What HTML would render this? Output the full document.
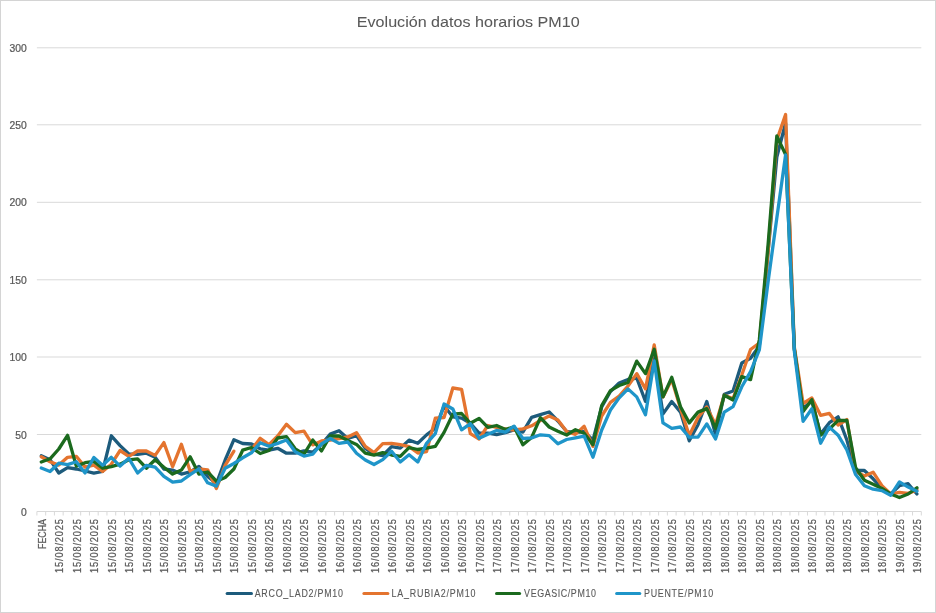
<!DOCTYPE html>
<html><head><meta charset="utf-8"><style>
html,body{margin:0;padding:0;background:#fff;}
body{width:936px;height:613px;overflow:hidden;}
svg{display:block;will-change:transform;} text{stroke:#595959;stroke-width:0.25px;font-family:"Liberation Sans",sans-serif;}
</style></head><body>
<svg width="936" height="613" viewBox="0 0 936 613">
<rect x="0.5" y="0.5" width="935" height="612" fill="#fff" stroke="#d4d4d4" stroke-width="1"/>
<text transform="translate(356.8,27.2)" font-size="14.6" fill="#595959" style="stroke-width:0.05px" textLength="222.9" lengthAdjust="spacingAndGlyphs">Evolución datos horarios PM10</text>
<line x1="36.9" y1="511.5" x2="921.3" y2="511.5" stroke="#d9d9d9" stroke-width="1"/>
<text transform="translate(26.8,515.5) scale(0.94,1)" font-size="11" fill="#595959" text-anchor="end">0</text>
<line x1="36.9" y1="434.5" x2="921.3" y2="434.5" stroke="#d9d9d9" stroke-width="1"/>
<text transform="translate(26.8,438.5) scale(0.94,1)" font-size="11" fill="#595959" text-anchor="end">50</text>
<line x1="36.9" y1="357.0" x2="921.3" y2="357.0" stroke="#d9d9d9" stroke-width="1"/>
<text transform="translate(26.8,361.0) scale(0.94,1)" font-size="11" fill="#595959" text-anchor="end">100</text>
<line x1="36.9" y1="279.8" x2="921.3" y2="279.8" stroke="#d9d9d9" stroke-width="1"/>
<text transform="translate(26.8,283.8) scale(0.94,1)" font-size="11" fill="#595959" text-anchor="end">150</text>
<line x1="36.9" y1="202.3" x2="921.3" y2="202.3" stroke="#d9d9d9" stroke-width="1"/>
<text transform="translate(26.8,206.3) scale(0.94,1)" font-size="11" fill="#595959" text-anchor="end">200</text>
<line x1="36.9" y1="124.8" x2="921.3" y2="124.8" stroke="#d9d9d9" stroke-width="1"/>
<text transform="translate(26.8,128.8) scale(0.94,1)" font-size="11" fill="#595959" text-anchor="end">250</text>
<line x1="36.9" y1="47.8" x2="921.3" y2="47.8" stroke="#d9d9d9" stroke-width="1"/>
<text transform="translate(26.8,51.8) scale(0.94,1)" font-size="11" fill="#595959" text-anchor="end">300</text>
<path d="M36.90 511.5V515.5M45.66 511.5V515.5M54.41 511.5V515.5M63.17 511.5V515.5M71.93 511.5V515.5M80.68 511.5V515.5M89.44 511.5V515.5M98.20 511.5V515.5M106.95 511.5V515.5M115.71 511.5V515.5M124.46 511.5V515.5M133.22 511.5V515.5M141.98 511.5V515.5M150.73 511.5V515.5M159.49 511.5V515.5M168.25 511.5V515.5M177.00 511.5V515.5M185.76 511.5V515.5M194.52 511.5V515.5M203.27 511.5V515.5M212.03 511.5V515.5M220.79 511.5V515.5M229.54 511.5V515.5M238.30 511.5V515.5M247.05 511.5V515.5M255.81 511.5V515.5M264.57 511.5V515.5M273.32 511.5V515.5M282.08 511.5V515.5M290.84 511.5V515.5M299.59 511.5V515.5M308.35 511.5V515.5M317.11 511.5V515.5M325.86 511.5V515.5M334.62 511.5V515.5M343.38 511.5V515.5M352.13 511.5V515.5M360.89 511.5V515.5M369.64 511.5V515.5M378.40 511.5V515.5M387.16 511.5V515.5M395.91 511.5V515.5M404.67 511.5V515.5M413.43 511.5V515.5M422.18 511.5V515.5M430.94 511.5V515.5M439.70 511.5V515.5M448.45 511.5V515.5M457.21 511.5V515.5M465.97 511.5V515.5M474.72 511.5V515.5M483.48 511.5V515.5M492.23 511.5V515.5M500.99 511.5V515.5M509.75 511.5V515.5M518.50 511.5V515.5M527.26 511.5V515.5M536.02 511.5V515.5M544.77 511.5V515.5M553.53 511.5V515.5M562.29 511.5V515.5M571.04 511.5V515.5M579.80 511.5V515.5M588.56 511.5V515.5M597.31 511.5V515.5M606.07 511.5V515.5M614.82 511.5V515.5M623.58 511.5V515.5M632.34 511.5V515.5M641.09 511.5V515.5M649.85 511.5V515.5M658.61 511.5V515.5M667.36 511.5V515.5M676.12 511.5V515.5M684.88 511.5V515.5M693.63 511.5V515.5M702.39 511.5V515.5M711.15 511.5V515.5M719.90 511.5V515.5M728.66 511.5V515.5M737.41 511.5V515.5M746.17 511.5V515.5M754.93 511.5V515.5M763.68 511.5V515.5M772.44 511.5V515.5M781.20 511.5V515.5M789.95 511.5V515.5M798.71 511.5V515.5M807.47 511.5V515.5M816.22 511.5V515.5M824.98 511.5V515.5M833.74 511.5V515.5M842.49 511.5V515.5M851.25 511.5V515.5M860.00 511.5V515.5M868.76 511.5V515.5M877.52 511.5V515.5M886.27 511.5V515.5M895.03 511.5V515.5M903.79 511.5V515.5M912.54 511.5V515.5M921.30 511.5V515.5" stroke="#d9d9d9" stroke-width="1" fill="none"/>
<text transform="translate(45.78,519) rotate(-90) scale(1.0,1)" font-size="10.5" fill="#595959" text-anchor="end" textLength="30.0" lengthAdjust="spacingAndGlyphs">FECHA</text>
<text transform="translate(63.29,519) rotate(-90) scale(0.88,1)" font-size="10.5" fill="#595959" text-anchor="end" textLength="61.4" lengthAdjust="spacing">15/08/2025</text>
<text transform="translate(80.80,519) rotate(-90) scale(0.88,1)" font-size="10.5" fill="#595959" text-anchor="end" textLength="61.4" lengthAdjust="spacing">15/08/2025</text>
<text transform="translate(98.32,519) rotate(-90) scale(0.88,1)" font-size="10.5" fill="#595959" text-anchor="end" textLength="61.4" lengthAdjust="spacing">15/08/2025</text>
<text transform="translate(115.83,519) rotate(-90) scale(0.88,1)" font-size="10.5" fill="#595959" text-anchor="end" textLength="61.4" lengthAdjust="spacing">15/08/2025</text>
<text transform="translate(133.34,519) rotate(-90) scale(0.88,1)" font-size="10.5" fill="#595959" text-anchor="end" textLength="61.4" lengthAdjust="spacing">15/08/2025</text>
<text transform="translate(150.86,519) rotate(-90) scale(0.88,1)" font-size="10.5" fill="#595959" text-anchor="end" textLength="61.4" lengthAdjust="spacing">15/08/2025</text>
<text transform="translate(168.37,519) rotate(-90) scale(0.88,1)" font-size="10.5" fill="#595959" text-anchor="end" textLength="61.4" lengthAdjust="spacing">15/08/2025</text>
<text transform="translate(185.88,519) rotate(-90) scale(0.88,1)" font-size="10.5" fill="#595959" text-anchor="end" textLength="61.4" lengthAdjust="spacing">15/08/2025</text>
<text transform="translate(203.39,519) rotate(-90) scale(0.88,1)" font-size="10.5" fill="#595959" text-anchor="end" textLength="61.4" lengthAdjust="spacing">15/08/2025</text>
<text transform="translate(220.91,519) rotate(-90) scale(0.88,1)" font-size="10.5" fill="#595959" text-anchor="end" textLength="61.4" lengthAdjust="spacing">15/08/2025</text>
<text transform="translate(238.42,519) rotate(-90) scale(0.88,1)" font-size="10.5" fill="#595959" text-anchor="end" textLength="61.4" lengthAdjust="spacing">15/08/2025</text>
<text transform="translate(255.93,519) rotate(-90) scale(0.88,1)" font-size="10.5" fill="#595959" text-anchor="end" textLength="61.4" lengthAdjust="spacing">15/08/2025</text>
<text transform="translate(273.45,519) rotate(-90) scale(0.88,1)" font-size="10.5" fill="#595959" text-anchor="end" textLength="61.4" lengthAdjust="spacing">16/08/2025</text>
<text transform="translate(290.96,519) rotate(-90) scale(0.88,1)" font-size="10.5" fill="#595959" text-anchor="end" textLength="61.4" lengthAdjust="spacing">16/08/2025</text>
<text transform="translate(308.47,519) rotate(-90) scale(0.88,1)" font-size="10.5" fill="#595959" text-anchor="end" textLength="61.4" lengthAdjust="spacing">16/08/2025</text>
<text transform="translate(325.98,519) rotate(-90) scale(0.88,1)" font-size="10.5" fill="#595959" text-anchor="end" textLength="61.4" lengthAdjust="spacing">16/08/2025</text>
<text transform="translate(343.50,519) rotate(-90) scale(0.88,1)" font-size="10.5" fill="#595959" text-anchor="end" textLength="61.4" lengthAdjust="spacing">16/08/2025</text>
<text transform="translate(361.01,519) rotate(-90) scale(0.88,1)" font-size="10.5" fill="#595959" text-anchor="end" textLength="61.4" lengthAdjust="spacing">16/08/2025</text>
<text transform="translate(378.52,519) rotate(-90) scale(0.88,1)" font-size="10.5" fill="#595959" text-anchor="end" textLength="61.4" lengthAdjust="spacing">16/08/2025</text>
<text transform="translate(396.04,519) rotate(-90) scale(0.88,1)" font-size="10.5" fill="#595959" text-anchor="end" textLength="61.4" lengthAdjust="spacing">16/08/2025</text>
<text transform="translate(413.55,519) rotate(-90) scale(0.88,1)" font-size="10.5" fill="#595959" text-anchor="end" textLength="61.4" lengthAdjust="spacing">16/08/2025</text>
<text transform="translate(431.06,519) rotate(-90) scale(0.88,1)" font-size="10.5" fill="#595959" text-anchor="end" textLength="61.4" lengthAdjust="spacing">16/08/2025</text>
<text transform="translate(448.57,519) rotate(-90) scale(0.88,1)" font-size="10.5" fill="#595959" text-anchor="end" textLength="61.4" lengthAdjust="spacing">16/08/2025</text>
<text transform="translate(466.09,519) rotate(-90) scale(0.88,1)" font-size="10.5" fill="#595959" text-anchor="end" textLength="61.4" lengthAdjust="spacing">16/08/2025</text>
<text transform="translate(483.60,519) rotate(-90) scale(0.88,1)" font-size="10.5" fill="#595959" text-anchor="end" textLength="61.4" lengthAdjust="spacing">17/08/2025</text>
<text transform="translate(501.11,519) rotate(-90) scale(0.88,1)" font-size="10.5" fill="#595959" text-anchor="end" textLength="61.4" lengthAdjust="spacing">17/08/2025</text>
<text transform="translate(518.63,519) rotate(-90) scale(0.88,1)" font-size="10.5" fill="#595959" text-anchor="end" textLength="61.4" lengthAdjust="spacing">17/08/2025</text>
<text transform="translate(536.14,519) rotate(-90) scale(0.88,1)" font-size="10.5" fill="#595959" text-anchor="end" textLength="61.4" lengthAdjust="spacing">17/08/2025</text>
<text transform="translate(553.65,519) rotate(-90) scale(0.88,1)" font-size="10.5" fill="#595959" text-anchor="end" textLength="61.4" lengthAdjust="spacing">17/08/2025</text>
<text transform="translate(571.16,519) rotate(-90) scale(0.88,1)" font-size="10.5" fill="#595959" text-anchor="end" textLength="61.4" lengthAdjust="spacing">17/08/2025</text>
<text transform="translate(588.68,519) rotate(-90) scale(0.88,1)" font-size="10.5" fill="#595959" text-anchor="end" textLength="61.4" lengthAdjust="spacing">17/08/2025</text>
<text transform="translate(606.19,519) rotate(-90) scale(0.88,1)" font-size="10.5" fill="#595959" text-anchor="end" textLength="61.4" lengthAdjust="spacing">17/08/2025</text>
<text transform="translate(623.70,519) rotate(-90) scale(0.88,1)" font-size="10.5" fill="#595959" text-anchor="end" textLength="61.4" lengthAdjust="spacing">17/08/2025</text>
<text transform="translate(641.22,519) rotate(-90) scale(0.88,1)" font-size="10.5" fill="#595959" text-anchor="end" textLength="61.4" lengthAdjust="spacing">17/08/2025</text>
<text transform="translate(658.73,519) rotate(-90) scale(0.88,1)" font-size="10.5" fill="#595959" text-anchor="end" textLength="61.4" lengthAdjust="spacing">17/08/2025</text>
<text transform="translate(676.24,519) rotate(-90) scale(0.88,1)" font-size="10.5" fill="#595959" text-anchor="end" textLength="61.4" lengthAdjust="spacing">17/08/2025</text>
<text transform="translate(693.75,519) rotate(-90) scale(0.88,1)" font-size="10.5" fill="#595959" text-anchor="end" textLength="61.4" lengthAdjust="spacing">18/08/2025</text>
<text transform="translate(711.27,519) rotate(-90) scale(0.88,1)" font-size="10.5" fill="#595959" text-anchor="end" textLength="61.4" lengthAdjust="spacing">18/08/2025</text>
<text transform="translate(728.78,519) rotate(-90) scale(0.88,1)" font-size="10.5" fill="#595959" text-anchor="end" textLength="61.4" lengthAdjust="spacing">18/08/2025</text>
<text transform="translate(746.29,519) rotate(-90) scale(0.88,1)" font-size="10.5" fill="#595959" text-anchor="end" textLength="61.4" lengthAdjust="spacing">18/08/2025</text>
<text transform="translate(763.81,519) rotate(-90) scale(0.88,1)" font-size="10.5" fill="#595959" text-anchor="end" textLength="61.4" lengthAdjust="spacing">18/08/2025</text>
<text transform="translate(781.32,519) rotate(-90) scale(0.88,1)" font-size="10.5" fill="#595959" text-anchor="end" textLength="61.4" lengthAdjust="spacing">18/08/2025</text>
<text transform="translate(798.83,519) rotate(-90) scale(0.88,1)" font-size="10.5" fill="#595959" text-anchor="end" textLength="61.4" lengthAdjust="spacing">18/08/2025</text>
<text transform="translate(816.34,519) rotate(-90) scale(0.88,1)" font-size="10.5" fill="#595959" text-anchor="end" textLength="61.4" lengthAdjust="spacing">18/08/2025</text>
<text transform="translate(833.86,519) rotate(-90) scale(0.88,1)" font-size="10.5" fill="#595959" text-anchor="end" textLength="61.4" lengthAdjust="spacing">18/08/2025</text>
<text transform="translate(851.37,519) rotate(-90) scale(0.88,1)" font-size="10.5" fill="#595959" text-anchor="end" textLength="61.4" lengthAdjust="spacing">18/08/2025</text>
<text transform="translate(868.88,519) rotate(-90) scale(0.88,1)" font-size="10.5" fill="#595959" text-anchor="end" textLength="61.4" lengthAdjust="spacing">18/08/2025</text>
<text transform="translate(886.40,519) rotate(-90) scale(0.88,1)" font-size="10.5" fill="#595959" text-anchor="end" textLength="61.4" lengthAdjust="spacing">18/08/2025</text>
<text transform="translate(903.91,519) rotate(-90) scale(0.88,1)" font-size="10.5" fill="#595959" text-anchor="end" textLength="61.4" lengthAdjust="spacing">19/08/2025</text>
<text transform="translate(921.42,519) rotate(-90) scale(0.88,1)" font-size="10.5" fill="#595959" text-anchor="end" textLength="61.4" lengthAdjust="spacing">19/08/2025</text>
<polyline points="41.28,455.8 50.03,459.7 58.79,473.0 67.55,467.6 76.30,469.0 85.06,471.0 93.82,473.2 102.57,471.5 111.33,435.8 120.09,445.6 128.84,453.9 137.60,454.4 146.36,453.2 155.11,457.2 163.87,469.0 172.62,470.1 181.38,474.1 190.14,471.8 198.89,466.4 207.65,476.4 216.41,483.6 225.16,460.0 233.92,439.7 242.68,443.5 251.43,444.0 260.19,448.8 268.95,450.2 277.70,448.3 286.46,453.2 295.21,453.2 303.97,450.8 312.73,452.2 321.48,444.4 330.24,434.1 339.00,430.7 347.75,438.5 356.51,435.6 365.27,448.3 374.02,454.2 382.78,455.5 391.54,446.7 400.29,448.1 409.05,440.1 417.80,443.3 426.56,434.9 435.32,428.2 444.07,406.0 452.83,416.8 461.59,418.1 470.34,423.3 479.10,433.1 487.86,433.2 496.61,434.6 505.37,432.6 514.13,429.9 522.88,432.1 531.64,417.3 540.40,414.6 549.15,412.0 557.91,421.0 566.66,431.5 575.42,432.7 584.18,431.5 592.93,440.1 601.69,407.0 610.45,391.5 619.20,383.0 627.96,379.5 636.72,378.0 645.47,401.4 654.23,356.5 662.99,413.9 671.74,401.5 680.50,412.1 689.25,440.8 698.01,424.7 706.77,401.5 715.52,434.6 724.28,394.2 733.04,391.0 741.79,363.0 750.55,358.3 759.31,346.0 768.06,252.0 776.82,157.0 785.58,123.0 794.33,349.0 803.09,408.5 811.84,401.0 820.60,434.1 829.36,422.7 838.11,416.8 846.87,440.0 855.63,470.5 864.38,470.5 873.14,478.8 881.90,488.5 890.65,494.0 899.41,485.7 908.17,483.7 916.92,494.0" fill="none" stroke="#1d5b7c" stroke-width="3.3" stroke-linejoin="round" stroke-linecap="round"/>
<polyline points="41.28,456.8 50.03,461.7 58.79,465.1 67.55,457.3 76.30,456.3 85.06,467.1 93.82,465.2 102.57,471.5 111.33,464.2 120.09,450.5 128.84,456.3 137.60,451.0 146.36,451.0 155.11,455.4 163.87,442.6 172.62,466.7 181.38,444.3 190.14,471.2 198.89,469.0 207.65,469.8 216.41,488.5 225.16,465.3 233.92,451.2" fill="none" stroke="#e4742f" stroke-width="3.3" stroke-linejoin="round" stroke-linecap="round"/>
<polyline points="251.43,449.8 260.19,438.3 268.95,444.6 277.70,436.0 286.46,424.3 295.21,432.6 303.97,431.2 312.73,444.9 321.48,441.0 330.24,440.0 339.00,438.5 347.75,437.0 356.51,432.7 365.27,446.3 374.02,452.7 382.78,443.6 391.54,443.3 400.29,444.6 409.05,446.7 417.80,453.0 426.56,451.6 435.32,418.2 444.07,417.5 452.83,388.0 461.59,389.4 470.34,433.7 479.10,439.0 487.86,425.5 496.61,427.5 505.37,428.9 514.13,430.0 522.88,428.9 531.64,425.8 540.40,420.5 549.15,416.0 557.91,420.1 566.66,431.5 575.42,434.4 584.18,426.3 592.93,446.4 601.69,416.0 610.45,402.3 619.20,396.0 627.96,386.1 636.72,373.7 645.47,388.8 654.23,344.9 662.99,396.9 671.74,379.5 680.50,408.5 689.25,435.4 698.01,417.5 706.77,406.9 715.52,424.7 724.28,395.2 733.04,398.5 741.79,375.0 750.55,349.5 759.31,343.0 768.06,252.0 776.82,140.0 785.58,114.5 794.33,347.0 803.09,403.5 811.84,398.0 820.60,415.3 829.36,413.4 838.11,425.0 846.87,419.6 855.63,471.5 864.38,476.0 873.14,472.2 881.90,485.7 890.65,494.0 899.41,492.3 908.17,493.4 916.92,489.9" fill="none" stroke="#e4742f" stroke-width="3.3" stroke-linejoin="round" stroke-linecap="round"/>
<polyline points="41.28,462.0 50.03,458.8 58.79,449.0 67.55,435.3 76.30,466.1 85.06,462.7 93.82,461.5 102.57,468.1 111.33,466.6 120.09,464.2 128.84,459.8 137.60,458.8 146.36,468.2 155.11,459.8 163.87,467.3 172.62,474.1 181.38,470.1 190.14,456.8 198.89,474.1 207.65,472.0 216.41,481.2 225.16,477.5 233.92,469.0 242.68,450.2 251.43,447.5 260.19,453.5 268.95,450.5 277.70,438.0 286.46,436.6 295.21,448.8 303.97,454.2 312.73,440.0 321.48,451.0 330.24,436.0 339.00,436.0 347.75,440.5 356.51,444.4 365.27,453.2 374.02,455.2 382.78,452.6 391.54,455.0 400.29,456.4 409.05,447.7 417.80,449.5 426.56,448.1 435.32,446.4 444.07,432.4 452.83,414.2 461.59,413.5 470.34,423.3 479.10,418.4 487.86,427.3 496.61,425.5 505.37,429.5 514.13,426.8 522.88,444.8 531.64,437.4 540.40,417.7 549.15,427.0 557.91,431.2 566.66,435.0 575.42,429.7 584.18,433.3 592.93,444.7 601.69,405.5 610.45,390.6 619.20,385.5 627.96,382.5 636.72,361.1 645.47,373.6 654.23,349.3 662.99,396.9 671.74,377.3 680.50,406.7 689.25,422.9 698.01,412.1 706.77,408.6 715.52,428.3 724.28,395.2 733.04,400.0 741.79,376.6 750.55,379.6 759.31,340.0 768.06,245.0 776.82,136.0 785.58,154.5 794.33,349.0 803.09,411.5 811.84,399.7 820.60,435.2 829.36,429.0 838.11,420.4 846.87,420.5 855.63,467.7 864.38,480.2 873.14,484.3 881.90,488.5 890.65,494.0 899.41,497.5 908.17,494.0 916.92,487.8" fill="none" stroke="#1b6a1e" stroke-width="3.3" stroke-linejoin="round" stroke-linecap="round"/>
<polyline points="41.28,468.0 50.03,471.5 58.79,463.2 67.55,464.6 76.30,461.7 85.06,473.0 93.82,457.5 102.57,465.2 111.33,457.3 120.09,466.1 128.84,458.3 137.60,473.0 146.36,465.3 155.11,467.2 163.87,476.4 172.62,482.1 181.38,481.0 190.14,474.7 198.89,468.8 207.65,482.8 216.41,486.1 225.16,468.3 233.92,463.5 242.68,457.8 251.43,452.8 260.19,442.8 268.95,446.3 277.70,443.4 286.46,440.0 295.21,451.7 303.97,456.1 312.73,454.2 321.48,443.8 330.24,438.5 339.00,443.4 347.75,442.0 356.51,453.2 365.27,460.0 374.02,464.5 382.78,459.6 391.54,451.2 400.29,462.0 409.05,454.7 417.80,462.0 426.56,443.3 435.32,433.6 444.07,404.0 452.83,409.0 461.59,429.8 470.34,423.7 479.10,438.3 487.86,434.2 496.61,430.4 505.37,432.1 514.13,426.2 522.88,438.5 531.64,437.9 540.40,434.8 549.15,435.6 557.91,443.7 566.66,439.5 575.42,437.8 584.18,436.1 592.93,457.2 601.69,430.0 610.45,410.0 619.20,397.8 627.96,388.9 636.72,396.9 645.47,414.8 654.23,361.0 662.99,422.9 671.74,428.3 680.50,427.0 689.25,437.2 698.01,437.2 706.77,423.9 715.52,439.0 724.28,412.1 733.04,406.7 741.79,386.8 750.55,371.6 759.31,350.0 768.06,282.0 776.82,218.0 785.58,155.0 794.33,351.0 803.09,421.4 811.84,408.8 820.60,443.2 829.36,427.1 838.11,435.2 846.87,450.0 855.63,474.6 864.38,485.7 873.14,489.2 881.90,490.6 890.65,495.4 899.41,481.9 908.17,487.1 916.92,491.3" fill="none" stroke="#1f95c9" stroke-width="3.3" stroke-linejoin="round" stroke-linecap="round"/>
<line x1="227.1" y1="593.5" x2="251.5" y2="593.5" stroke="#1d5b7c" stroke-width="3" stroke-linecap="round"/>
<text transform="translate(254.7,597.2) scale(0.88,1)" font-size="10.1" fill="#595959" style="stroke-width:0.1px" textLength="100.3" lengthAdjust="spacing">ARCO_LAD2/PM10</text>
<line x1="363.9" y1="593.5" x2="387.9" y2="593.5" stroke="#e4742f" stroke-width="3" stroke-linecap="round"/>
<text transform="translate(391.6,597.2) scale(0.88,1)" font-size="10.1" fill="#595959" style="stroke-width:0.1px" textLength="95.2" lengthAdjust="spacing">LA_RUBIA2/PM10</text>
<line x1="496.5" y1="593.5" x2="519.6" y2="593.5" stroke="#1b6a1e" stroke-width="3" stroke-linecap="round"/>
<text transform="translate(524.1,597.2) scale(0.88,1)" font-size="10.1" fill="#595959" style="stroke-width:0.1px" textLength="81.6" lengthAdjust="spacing">VEGASIC/PM10</text>
<line x1="616.6" y1="593.5" x2="639.8" y2="593.5" stroke="#1f95c9" stroke-width="3" stroke-linecap="round"/>
<text transform="translate(644.0,597.2) scale(0.88,1)" font-size="10.1" fill="#595959" style="stroke-width:0.1px" textLength="78.5" lengthAdjust="spacing">PUENTE/PM10</text>
</svg>
</body></html>
